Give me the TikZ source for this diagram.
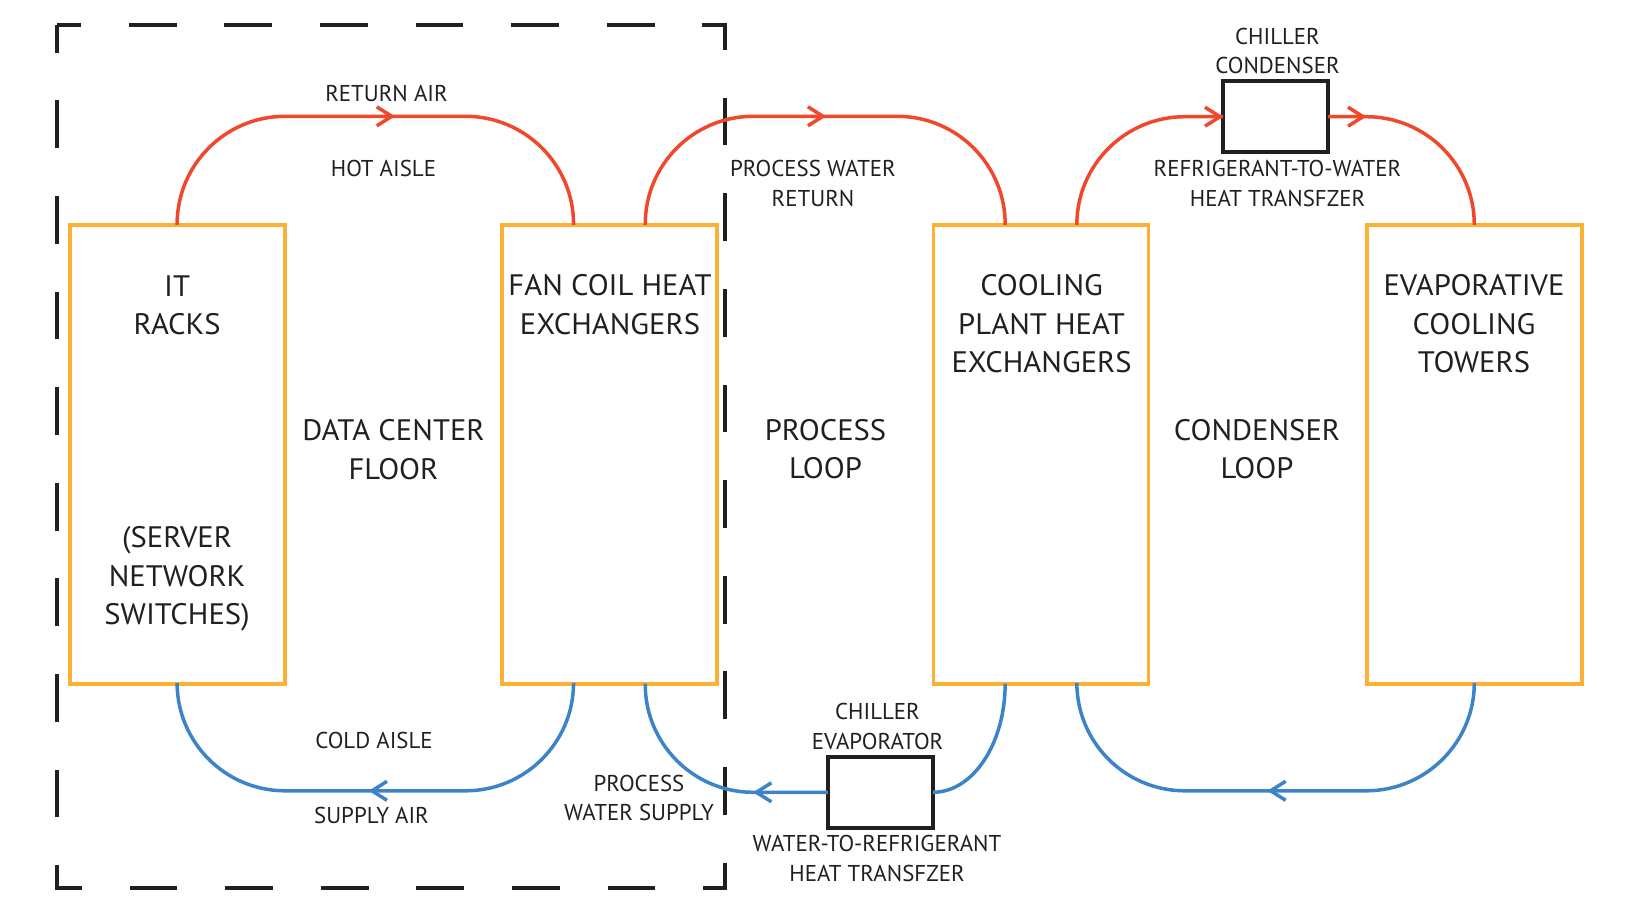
\documentclass[tikz,border=0pt]{standalone}
\usepackage{fontspec}
\setmainfont{PT Sans}
\newfontfamily\bigfont[FakeStretch=1.035]{PT Sans}
\usetikzlibrary{calc}
\definecolor{hotc}{RGB}{239,72,44}
\definecolor{coldc}{RGB}{61,131,200}
\definecolor{boxc}{RGB}{252,176,52}
\definecolor{inkc}{RGB}{35,31,32}
\tikzset{
  chevR/.pic={\draw[#1, line width=3.5pt, sharp corners, line join=miter, line cap=butt] (-18,-9.5) -- (-3,0) -- (-18,9.5);},
  chevL/.pic={\draw[#1, line width=3.5pt, sharp corners, line join=miter, line cap=butt] (18,-9.5) -- (3,0) -- (18,9.5);}
}
\begin{document}
\begin{tikzpicture}[x=1pt,y=-1pt,
  unitbox/.style={draw=boxc, line width=3.8pt, minimum width=215pt, minimum height=458.7pt, inner sep=0pt, outer sep=0pt},
  chillerbox/.style={draw=inkc, line width=4pt, minimum width=105pt, minimum height=71pt, inner sep=0pt, outer sep=0pt},
  big/.style={text=inkc, align=center, inner sep=0pt, font=\bigfont\fontsize{29.6}{38.6}\selectfont},
  small/.style={text=inkc, align=center, inner sep=0pt, font=\fontsize{22.9}{29.5}\selectfont},
  hot/.style={draw=hotc, line width=3.5pt, rounded corners=108pt},
  cold/.style={draw=coldc, line width=3.5pt, rounded corners=108pt},
  frame/.style={draw=inkc, line width=4pt, dash pattern=on 47.8pt off 47.8pt, dash phase=23.9pt, line join=miter}
]
\useasboundingbox (0,0) rectangle (1629,912);

% dashed data-center frame
\coordinate (dtl) at (57.1,24.9);
\coordinate (dtr) at (725.2,24.9);
\coordinate (dbr) at (725.2,888.3);
\coordinate (dbl) at (57.1,888.3);
\draw[frame] (dtl) -- (dtr) -- (dbr) -- (dbl) -- cycle;

% main boxes
\node[unitbox] (it) at (177.1,454.3) {};
\node[unitbox] (fan) at (609.4,454.3) {};
\node[unitbox] (cool) at (1041,454.3) {};
\node[unitbox] (evap) at (1474.3,454.3) {};

% chiller boxes
\node[chillerbox] (cc) at (1275.5,116.7) {};
\node[chillerbox] (ce) at (880.4,792.3) {};

% reference lines
\coordinate (hotline) at (0,116.3);
\coordinate (coldline) at (0,790.8);

% attachment points
\coordinate (fanTA) at ($(fan.north west)!1/3!(fan.north east)$);
\coordinate (fanTB) at ($(fan.north west)!2/3!(fan.north east)$);
\coordinate (fanBA) at ($(fan.south west)!1/3!(fan.south east)$);
\coordinate (fanBB) at ($(fan.south west)!2/3!(fan.south east)$);
\coordinate (coolTA) at ($(cool.north west)!1/3!(cool.north east)$);
\coordinate (coolTB) at ($(cool.north west)!2/3!(cool.north east)$);
\coordinate (coolBA) at ($(cool.south west)!1/3!(cool.south east)$);
\coordinate (coolBB) at ($(cool.south west)!2/3!(cool.south east)$);

% hot (return) lines
\draw[hot] (it.north) -- (it.north |- hotline) -- coordinate[pos=0.549] (a1) (fanTA |- hotline) -- (fanTA);
\draw[hot] (fanTB) -- (fanTB |- hotline) -- coordinate[pos=0.502] (a2) (coolTA |- hotline) -- (coolTA);
\draw[hot] (coolTB) -- (coolTB |- cc.west) -- (cc.west);
\draw[hot] (cc.east) -- coordinate[pos=0.26] (a3) (evap.north |- cc.east) -- (evap.north);
\pic at (a1) {chevR=hotc};
\pic at (a2) {chevR=hotc};
\pic at (cc.west) {chevR=hotc};
\pic at (a3) {chevR=hotc};

% cold (supply) lines
\draw[cold] (it.south) -- (it.south |- coldline) -- coordinate[pos=0.484] (b1) (fanBA |- coldline) -- (fanBA);
\draw[cold] (fanBB) -- (fanBB |- ce.west) -- coordinate[pos=0.592] (b2) (ce.west);
\draw[cold] (ce.east) .. controls +(40,0) and +(0,60) .. (coolBA);
\draw[cold] (evap.south) -- (evap.south |- coldline) -- coordinate[pos=0.52] (b3) (coolBB |- coldline) -- (coolBB);
\pic at (b1) {chevL=coldc};
\pic at (b2) {chevL=coldc};
\pic at (b3) {chevL=coldc};

% big labels
\node[big] (tit) at (177.1,305.5) {IT\\RACKS};
\node[big] (tsrv) at (177.1,579) {(SERVER\\NETWORK\\SWITCHES)};
\node[big] (tdc) at (393.5,449.5) {DATA CENTER\\FLOOR};
\node[big] (tfan) at (610,304.5) {FAN COIL HEAT\\EXCHANGERS};
\node[big] (tpl) at (825.5,449.3) {PROCESS\\LOOP};
\node[big] (tcool) at (1041.6,324) {COOLING\\PLANT HEAT\\EXCHANGERS};
\node[big] (tcl) at (1257,449.3) {CONDENSER\\LOOP};
\node[big] (tevap) at (1474,324) {EVAPORATIVE\\COOLING\\TOWERS};

% small labels
\node[small] (lra) at (386.5,93) {RETURN AIR};
\node[small] (lha) at (383.5,168) {HOT AISLE};
\node[small] (lpwr) at (813,183.25) {PROCESS WATER\\RETURN};
\node[small] (lcc) at (1277.5,51) {CHILLER\\CONDENSER};
\node[small] (lrtw) at (1277.5,183.25) {REFRIGERANT-TO-WATER\\HEAT TRANSFZER};
\node[small] (lca) at (374,740.5) {COLD AISLE};
\node[small] (lsa) at (371.5,815.5) {SUPPLY AIR};
\node[small] (lpws) at (639,797.75) {PROCESS\\WATER SUPPLY};
\node[small] (lce) at (877.5,726.5) {CHILLER\\EVAPORATOR};
\node[small] (lwtr) at (877,858.5) {WATER-TO-REFRIGERANT\\HEAT TRANSFZER};
\end{tikzpicture}
\end{document}
